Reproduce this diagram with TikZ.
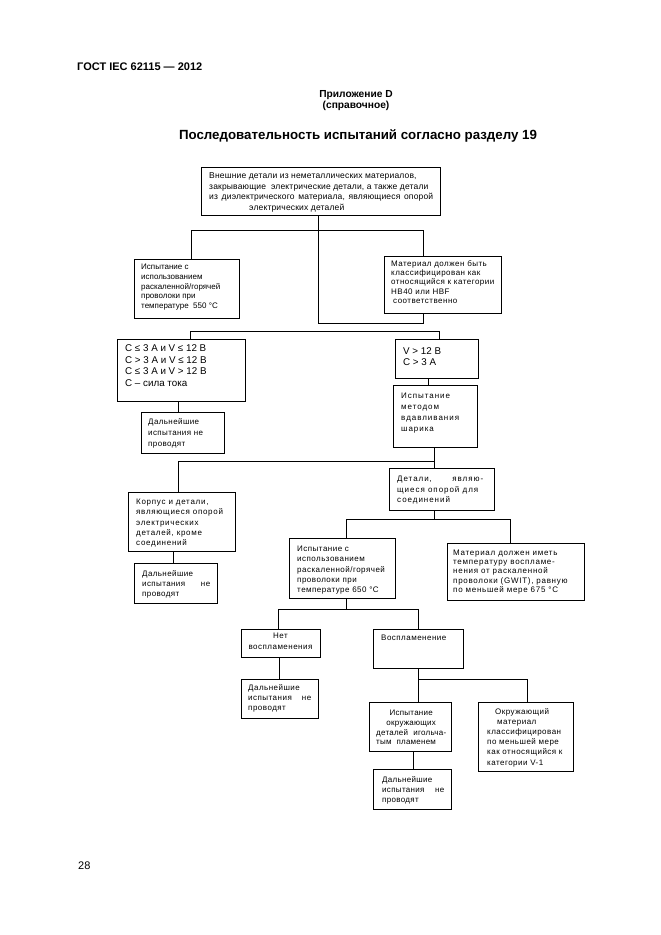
\documentclass[tikz,border=0pt]{standalone}
\usepackage{fontspec}
\setmainfont{Liberation Sans}
\usetikzlibrary{calc}
\newcommand\bxf[3]{\fontsize{#1}{#3}\selectfont\addfontfeatures{LetterSpace=#2}}
\begin{document}
\begin{tikzpicture}[x=1pt,y=-1pt,
  bx/.style={draw, line width=0.8pt, inner sep=0pt, anchor=north west},
  tx/.style={inner sep=0pt, anchor=north west, align=left},
  ln/.style={line width=0.8pt}]
\useasboundingbox (0,0) rectangle (661,935);
% headings
\node[inner sep=0pt, anchor=west, font=\fontsize{11}{13}\selectfont\bfseries] (hdr) at (77,67) {ГОСТ IEC 62115 — 2012};
\node[inner sep=0pt, font=\fontsize{10.2}{12}\selectfont\bfseries] (app) at (356,95) {Приложение D};
\node[inner sep=0pt, font=\fontsize{10.2}{12}\selectfont\bfseries] (ref) at (356,106) {(справочное)};
\node[inner sep=0pt, font=\fontsize{13.3}{16}\selectfont\bfseries] (ttl) at (358,136) {Последовательность испытаний согласно разделу 19};
\node[inner sep=0pt, anchor=west, font=\fontsize{11}{13}\selectfont] (pg) at (78,866) {28};

% boxes
\node[bx, minimum width=239, minimum height=48] (top) at (201,167) {};
\node[tx, font=\bxf{8.5}{2}{10.7}] (ttop) at (209,172.5) {Внешние детали из неметаллических материалов,\\закрывающие\ \ электрические детали, а также детали\\\hbox to 224pt{из\hfill диэлектрического\hfill материала,\hfill являющиеся\hfill опорой}\\\hspace*{40pt}электрических деталей};

\node[bx, minimum width=105, minimum height=59] (L1) at (134,259) {};
\node[tx, font=\bxf{8}{0}{9.7}] (tL1) at (141,264) {Испытание с\\использованием\\раскаленной/горячей\\проволоки при\\температуре\ \ 550 °С};

\node[bx, minimum width=117, minimum height=57] (R1) at (384,256) {};
\node[tx, font=\bxf{8}{6}{9.4}] (tR1) at (391,260) {Материал должен быть\\классифицирован как\\относящийся к категории\\HB40 или HBF\\\hspace*{2pt}соответственно};

\node[bx, minimum width=128, minimum height=62] (C) at (117,339) {};
\node[tx, font=\bxf{9.8}{0}{11.7}] (tC) at (125,344.5) {С ≤ 3 А и V ≤ 12 В\\С > 3 А и V ≤ 12 В\\С ≤ 3 А и V > 12 В\\С – сила тока};

\node[bx, minimum width=83, minimum height=39] (V) at (395,339) {};
\node[tx, font=\bxf{9.8}{0}{11}] (tV) at (403,347) {V > 12 В\\С > 3 А};

\node[bx, minimum width=83, minimum height=41] (D1) at (141,412) {};
\node[tx, font=\bxf{8}{5}{11}] (tD1) at (148,418) {Дальнейшие\\испытания не\\проводят};

\node[bx, minimum width=84, minimum height=62] (B) at (393,385) {};
\node[tx, font=\bxf{8}{12}{11}] (tB) at (401,393) {Испытание\\методом\\вдавливания\\шарика};

\node[bx, minimum width=107, minimum height=59] (K) at (128,492) {};
\node[tx, font=\bxf{8}{9}{10.2}] (tK) at (136,499) {Корпус и детали,\\являющиеся опорой\\электрических\\деталей, кроме\\соединений};

\node[bx, minimum width=105, minimum height=42] (S) at (389,468) {};
\node[tx, font=\bxf{8}{12}{10.5}] (tS) at (397,476) {\hbox to 86pt{Детали,\hfill являю-}\\щиеся опорой для\\соединений};

\node[bx, minimum width=83, minimum height=40] (D2) at (134,563) {};
\node[tx, font=\bxf{8}{5}{10}] (tD2) at (142,570) {Дальнейшие\\\hbox to 68pt{испытания\hfill не}\\проводят};

\node[bx, minimum width=106, minimum height=60] (T6) at (289,538) {};
\node[tx, font=\bxf{8}{6}{10.2}] (tT6) at (297,546) {Испытание с\\использованием\\раскаленной/горячей\\проволоки при\\температуре 650 °С};

\node[bx, minimum width=137, minimum height=57] (G) at (447,543) {};
\node[tx, font=\bxf{8}{9}{9.1}] (tG) at (453,550) {Материал должен иметь\\температуру воспламе-\\нения от раскаленной\\проволоки (GWIT), равную\\по меньшей мере 675 °С};

\node[bx, minimum width=79, minimum height=28] (N) at (241,629) {};
\node[inner sep=0pt, anchor=north, align=center, font=\bxf{8}{6}{11}] (tN) at (280.5,633) {Нет\\воспламенения};

\node[bx, minimum width=90, minimum height=39] (F) at (373,629) {};
\node[tx, font=\bxf{8}{6}{10}] (tF) at (381,635) {Воспламенение};

\node[bx, minimum width=77, minimum height=39] (D3) at (241,679) {};
\node[tx, font=\bxf{8}{6}{10}] (tD3) at (248,684) {Дальнейшие\\\hbox to 63pt{испытания\hfill не}\\проводят};

\node[bx, minimum width=82, minimum height=49] (P) at (369,702) {};
\node[tx, font=\bxf{8}{3}{9.7}] (tP) at (376,710) {\hbox to 70pt{\hfil Испытание\hfil}\\\hbox to 70pt{\hfil окружающих\hfil}\\\hbox to 70pt{деталей\hfill игольча-}\\тым\ \ пламенем};

\node[bx, minimum width=95, minimum height=69] (O) at (478,702) {};
\node[tx, font=\bxf{8}{6}{10.2}] (tO) at (487,708) {\hspace*{8pt}Окружающий\\\hspace*{10pt}материал\\классифицирован\\по меньшей мере\\как относящийся к\\категории V-1};

\node[bx, minimum width=78, minimum height=40] (D4) at (373,769) {};
\node[tx, font=\bxf{8}{4}{10}] (tD4) at (382,776) {Дальнейшие\\\hbox to 62pt{испытания\hfill не}\\проводят};

% connectors
\coordinate (m1) at (318,323);
\coordinate (a1) at (191,230);
\coordinate (a2) at (423,230);
\draw[ln] (top.south -| m1) -- (m1);
\draw[ln] (L1.north -| a1) -- (a1) -- (a2) -- (R1.north -| a2);
\draw[ln] (R1.south -| a2) -- (a2 |- m1) -- (m1);

\coordinate (b1) at (190,331);
\coordinate (b2) at (439,331);
\draw[ln] (C.north -| b1) -- (b1) -- (b2) -- (V.north -| b2);

\coordinate (c1) at (178,405);
\draw[ln] (C.south -| c1) -- (D1.north -| c1);
\coordinate (c2) at (428,380);
\draw[ln] (V.south -| c2) -- (B.north -| c2);

\coordinate (d1) at (178,461);
\coordinate (d2) at (434,461);
\draw[ln] (B.south -| d2) -- (d2) -- (d1) -- (K.north -| d1);
\draw[ln] (d2) -- (S.north -| d2);

\coordinate (e1) at (173,555);
\draw[ln] (K.south -| e1) -- (D2.north -| e1);

\coordinate (f0) at (434,519);
\coordinate (f1) at (346,519);
\coordinate (f2) at (510,519);
\draw[ln] (S.south -| f0) -- (f0);
\draw[ln] (T6.north -| f1) -- (f1) -- (f2) -- (G.north -| f2);

\coordinate (g0) at (346,609);
\coordinate (g1) at (278,609);
\coordinate (g2) at (418,609);
\draw[ln] (T6.south -| g0) -- (g0);
\draw[ln] (N.north -| g1) -- (g1) -- (g2) -- (F.north -| g2);

\coordinate (h1) at (279,670);
\draw[ln] (N.south -| h1) -- (D3.north -| h1);

\coordinate (k1) at (418,679);
\coordinate (k2) at (527,679);
\draw[ln] (F.south -| k1) -- (k1) -- (k2) -- (O.north -| k2);
\draw[ln] (k1) -- (P.north -| k1);

\coordinate (l1) at (413,760);
\draw[ln] (P.south -| l1) -- (D4.north -| l1);
\end{tikzpicture}
\end{document}
